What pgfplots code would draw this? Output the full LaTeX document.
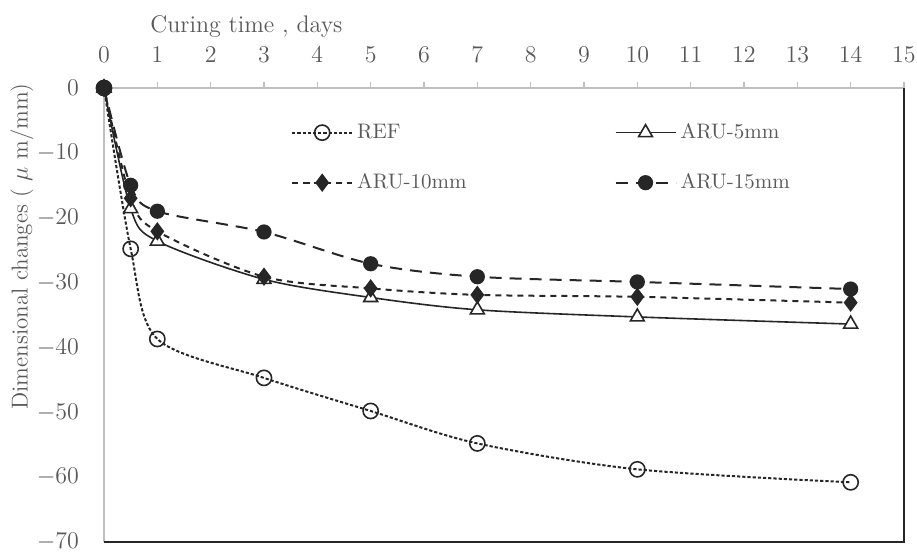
\documentclass[border=0pt]{standalone}
\usepackage{pgfplots}
\pgfplotsset{compat=1.18}
\definecolor{txt}{HTML}{595959}
\definecolor{axg}{HTML}{BFBFBF}
\definecolor{ln}{HTML}{262626}
\begin{document}
\begin{tikzpicture}
\begin{axis}[
  scale only axis, width=400pt, height=227pt,
  xmin=0, xmax=15, ymin=-70, ymax=0,
  axis x line*=top, axis y line*=left,
  x axis line style={draw=axg, line width=0.7pt, -},
  y axis line style={draw=axg, line width=0.7pt, -},
  xtick={0,...,15}, ytick={-70,-60,...,0},
  tick align=outside, major tick length=3pt,
  xtick style={draw=axg, line width=0.6pt},
  ytick style={draw=none},
  ticklabel style={font=\fontsize{12}{14}\selectfont, text=txt},
  xticklabel style={yshift=6pt},
  yticklabel style={xshift=-6pt},
  xlabel={Curing time , days},
  xlabel style={at={(axis description cs:0.178,1.135)}, anchor=center, font=\fontsize{12}{14}\selectfont, text=txt},
  ylabel={Dimensional changes ( $\mu$ m/mm)},
  ylabel style={at={(axis description cs:-0.1025,0.651)}, anchor=center, rotate=0, font=\fontsize{11.5}{13}\selectfont, text=txt},
  clip=false,
  legend columns=2,
  legend cell align=left,
  legend style={draw=none, fill=none, at={(axis description cs:0.226,0.94)}, anchor=north west,
    font=\fontsize{10.5}{12}\selectfont, text=txt, row sep=12pt,
    /tikz/every even column/.append style={column sep=72pt}},
  legend image code/.code={\draw[mark repeat=2, mark phase=2, #1] plot coordinates {(0pt,0pt) (15pt,0pt) (30pt,0pt)};},
  every axis plot/.append style={smooth, color=ln},
]
\addplot[dash pattern=on 1.6pt off 1pt, line width=1pt, mark=o, mark size=3.8pt,
  mark options={solid, fill=white, line width=0.8pt}]
  coordinates {(0,0) (0.5,-24.8) (1,-38.7) (3,-44.7) (5,-49.8) (7,-54.8) (10,-58.8) (14,-60.8)};
\addlegendentry{REF}
\addplot[solid, line width=0.8pt, mark=triangle*, mark size=4pt,
  mark options={solid, fill=white, line width=0.8pt}]
  coordinates {(0,0) (0.5,-18.6) (1,-23.6) (3,-29.5) (5,-32.3) (7,-34.2) (10,-35.3) (14,-36.4)};
\addlegendentry{ARU-5mm}
\addplot[dash pattern=on 3pt off 2.5pt, line width=1pt, mark=diamond*, mark size=3.8pt,
  mark options={solid, fill=ln}]
  coordinates {(0,0) (0.5,-17) (1,-22.1) (3,-29.1) (5,-30.9) (7,-31.9) (10,-32.2) (14,-33.1)};
\addlegendentry{ARU-10mm}
\addplot[dash pattern=on 6pt off 4pt, line width=1pt, mark=*, mark size=3.3pt,
  mark options={solid, fill=ln}]
  coordinates {(0,0) (0.5,-15) (1,-19) (3,-22.2) (5,-27.1) (7,-29.1) (10,-29.9) (14,-31)};
\addlegendentry{ARU-15mm}
\coordinate (sw) at (rel axis cs:0,0);
\coordinate (ne) at (rel axis cs:1,1);
\coordinate (se) at (rel axis cs:1,0);
\end{axis}
\draw[ln, line width=1pt] (sw) -- (se) -- (ne);
\pgfresetboundingbox
\path[use as bounding box] ([shift={(-52pt,-6pt)}]sw) rectangle ([shift={(6.5pt,44pt)}]ne);
\end{tikzpicture}
\end{document}
